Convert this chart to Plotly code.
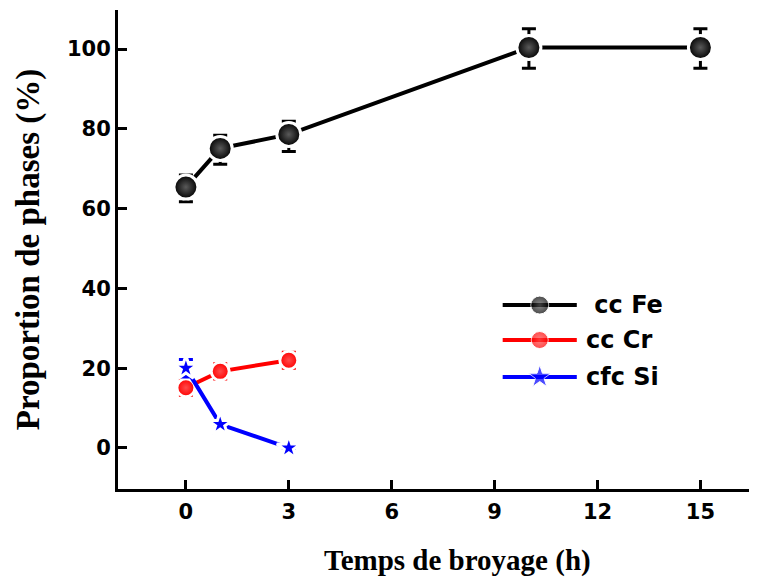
import plotly.graph_objects as go

# Data
t_fe = [0, 1, 3, 10, 15]
fe = [65.4, 75.1, 78.6, 100.4, 100.4]
fe_err_plus = [3.0, 3.3, 3.3, 4.7, 4.7]
fe_err_minus = [3.7, 4.0, 4.3, 5.2, 5.2]

t_cr = [0, 1, 3]
cr = [15.1, 19.2, 22.0]
cr_err = [1.9, 1.9, 2.0]

t_si = [0, 1, 3]
si = [20.0, 5.9, 0.0]
si_err = [2.2, 0, 0]

x_ticks = [0, 3, 6, 9, 12, 15]
y_ticks = [0, 20, 40, 60, 80, 100]

legend_names = [" cc Fe", "cc Cr", "cfc Si"]

fig = go.Figure()

line_w = 4
gap = dict(color="white", width=3)

fig.add_trace(go.Scatter(
    x=t_fe, y=fe, mode="lines+markers", showlegend=False,
    line=dict(color="black", width=line_w),
    marker=dict(symbol="circle", size=24, color="black", line=gap,
                gradient=dict(type="radial", color="#5a5a5a")),
    error_y=dict(type="data", array=fe_err_plus, arrayminus=fe_err_minus,
                 color="black", thickness=3, width=7),
))
fig.add_trace(go.Scatter(
    x=t_cr, y=cr, mode="lines+markers", showlegend=False,
    line=dict(color="red", width=line_w),
    marker=dict(symbol="circle", size=18, color="#ff0000", line=gap,
                gradient=dict(type="radial", color="#ff4a4a")),
    error_y=dict(type="data", array=cr_err, color="red", thickness=3, width=7),
))
fig.add_trace(go.Scatter(
    x=t_si, y=si, mode="lines+markers", showlegend=False,
    line=dict(color="blue", width=line_w),
    marker=dict(symbol="star", size=18, color="blue", line=gap),
    error_y=dict(type="data", array=si_err, color="blue", thickness=3, width=7),
))

# Manual legend on a hidden overlay axis (paper-like 0..1 ranges)
leg_colors = ["black", "red", "blue"]
leg_y = [0.384, 0.311, 0.234]
leg_syms = ["circle", "circle", "star"]
leg_sizes = [18, 17, 17]
leg_grad = ["#5a5a5a", "#ff4a4a", None]
x0, x1 = 0.602, 0.718
for name, c, yy, s, sz, g in zip(legend_names, leg_colors, leg_y, leg_syms, leg_sizes, leg_grad):
    grad = dict(type="radial", color=g) if g else None
    fig.add_trace(go.Scatter(
        x=[x0, (x0 + x1) / 2, x1], y=[yy, yy, yy], xaxis="x2", yaxis="y2",
        mode="lines+markers", showlegend=False, hoverinfo="skip",
        line=dict(color=c, width=line_w),
        marker=dict(symbol=s, size=[0, sz, 0], color=c, gradient=grad),
    ))
    fig.add_annotation(x=x1 + 0.012, y=yy, xref="x2", yref="y2", text=name,
                       showarrow=False, xanchor="left", yanchor="middle",
                       font=dict(family="DejaVu Sans", size=24, color="black",
                                 weight="bold"))

# x-axis title (original axis extends past the right edge, so title is off-centre)
fig.add_annotation(x=0.532, y=0, xref="paper", yref="paper", yshift=-71,
                   text="Temps de broyage (h)", showarrow=False,
                   xanchor="center", yanchor="middle",
                   font=dict(family="Liberation Serif", size=29, color="black",
                             weight="bold"))

axis_common = dict(showline=True, linecolor="black", linewidth=3,
                   ticks="inside", ticklen=9, tickwidth=3, tickcolor="black",
                   showgrid=False, zeroline=False, automargin=False,
                   tickfont=dict(family="DejaVu Sans", size=21, color="black",
                                 weight="bold"))

# The page body adds an 8px offset; margins compensate for it.
fig.update_layout(
    width=749, height=570,
    margin=dict(l=110, r=0, t=2, b=89),
    plot_bgcolor="white", paper_bgcolor="white",
    xaxis=dict(range=[-1.98, 16.65], tickvals=x_ticks, ticklabelstandoff=2,
               **axis_common),
    yaxis=dict(range=[-10.3, 109.8], tickvals=y_ticks, ticklabelstandoff=0,
               title=dict(text="Proportion de phases (%)", standoff=18,
                          font=dict(family="Liberation Serif", size=33,
                                    color="black", weight="bold")),
               **axis_common),
    xaxis2=dict(range=[0, 1], overlaying="x", visible=False),
    yaxis2=dict(range=[0, 1], overlaying="y", visible=False),
)

fig.write_html("out.html")
